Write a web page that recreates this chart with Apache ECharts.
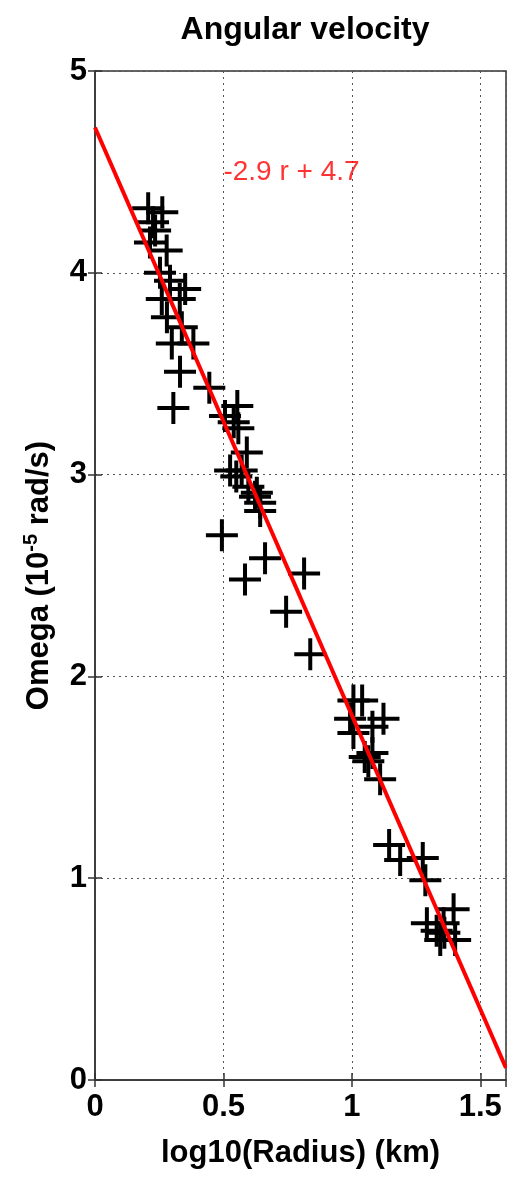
<!DOCTYPE html>
<html>
<head>
<meta charset="utf-8">
<script src="https://cdn.jsdelivr.net/npm/echarts@6/dist/echarts.min.js"></script>
<style>
  html,body{margin:0;padding:0;background:#fff;}
  #chart{width:507px;height:1178px;}
</style>
</head>
<body>
<div id="chart"></div>
<script>
var radiusLog = [0.207,0.262,0.226,0.234,0.214,0.279,0.253,0.292,0.351,0.260,0.330,0.28,0.338,0.299,0.383,0.331,0.445,0.305,
  0.506,0.554,0.558,0.54,0.591,0.526,0.571,0.55,0.597,0.63,0.623,0.643,0.643,
  0.494,0.662,0.584,0.814,0.744,0.838,
  1.006,1.04,0.993,1.123,1.006,1.08,1.05,1.08,1.064,1.11,
  1.145,1.188,1.276,1.286,
  1.292,1.357,1.396,1.344,1.402,1.33,1.36];
var omega = [4.32,4.30,4.25,4.21,4.15,4.11,4.00,3.96,3.92,3.87,3.87,3.78,3.73,3.65,3.65,3.51,3.43,3.33,
  3.29,3.34,3.23,3.26,3.11,3.02,3.02,2.99,2.94,2.91,2.89,2.86,2.82,
  2.70,2.585,2.48,2.51,2.32,2.11,
  1.88,1.88,1.79,1.79,1.72,1.75,1.60,1.62,1.58,1.49,
  1.165,1.09,1.10,0.99,
  0.777,0.777,0.846,0.694,0.694,0.74,0.73];
// fitted line end points
var fitX = [0, 1.6];
var fitY = [4.72, 0.06];
var fitText = '-2.9 r + 4.7';
var fitTextPos = [0.5, 4.5];

var xTicks = [0, 0.5, 1, 1.5];
var yTicks = [0, 1, 2, 3, 4, 5];

var pts = radiusLog.map(function(r, i){ return [r, omega[i]]; });
var fitPts = fitX.map(function(x, i){ return [x, fitY[i]]; });

var font = 'Liberation Sans, Arial, sans-serif';
var plus = 'path://M14,0H18V14H32V18H18V32H14V18H0V14H14Z';

var chart = echarts.init(document.getElementById('chart'));
chart.setOption({
  animation: false,
  backgroundColor: '#fff',
  title: {
    text: 'Angular velocity',
    left: 300, top: 9, textAlign: 'center',
    textStyle: {fontFamily: font, fontSize: 32, fontWeight: 'bold', color: '#000'}
  },
  grid: {left: 95, top: 71, right: 1, bottom: 98, show: true, borderColor: '#333', borderWidth: 1.5},
  xAxis: [{
    type: 'value', min: 0, max: 1.6, interval: 0.5,
    name: 'log10(Radius) (km)', nameLocation: 'middle', nameGap: 58,
    nameTextStyle: {fontFamily: font, fontSize: 31, fontWeight: 'bold', color: '#000'},
    axisLine: {show: true, lineStyle: {color: '#333', width: 1.5}},
    axisTick: {inside: true, length: 7, lineStyle: {color: '#333', width: 1.5}},
    axisLabel: {margin: 12, fontFamily: font, fontSize: 31, fontWeight: 'bold', color: '#000',
      showMaxLabel: false,
      formatter: function(v){ return xTicks.indexOf(v) >= 0 ? String(v) : ''; }},
    splitLine: {show: true, lineStyle: {type: [2, 4], color: '#555', width: 1}}
  }, {
    type: 'value', min: 0, max: 1.6, interval: 0.5, position: 'top',
    axisLine: {show: false},
    axisTick: {inside: true, length: 7, lineStyle: {color: '#333', width: 1.5}},
    axisLabel: {show: false}, splitLine: {show: false}
  }],
  yAxis: [{
    type: 'value', min: 0, max: 5, interval: 1,
    name: 'Omega (10{sup|-5} rad/s)', nameLocation: 'middle', nameGap: 38,
    nameTextStyle: {fontFamily: font, fontSize: 31, fontWeight: 'bold', color: '#000',
      rich: {sup: {fontFamily: font, fontSize: 20, fontWeight: 'bold', color: '#000', verticalAlign: 'top', padding: [0,0,16,0]}}},
    axisLine: {show: true, lineStyle: {color: '#333', width: 1.5}},
    axisTick: {inside: true, length: 7, lineStyle: {color: '#333', width: 1.5}},
    axisLabel: {margin: 8, fontFamily: font, fontSize: 31, fontWeight: 'bold', color: '#000',
      formatter: function(v){ return yTicks.indexOf(v) >= 0 ? String(v) : ''; }},
    splitLine: {show: true, lineStyle: {type: [2, 4], color: '#555', width: 1}}
  }, {
    type: 'value', min: 0, max: 5, interval: 1, position: 'right',
    axisLine: {show: false},
    axisTick: {inside: true, length: 7, lineStyle: {color: '#333', width: 1.5}},
    axisLabel: {show: false}, splitLine: {show: false}
  }],
  series: [{
    type: 'scatter',
    data: pts,
    symbol: plus,
    symbolSize: 32,
    itemStyle: {color: '#000', opacity: 1},
    z: 2
  }, {
    type: 'line',
    data: fitPts,
    symbol: 'none',
    lineStyle: {color: '#ff0000', width: 4},
    z: 3
  }, {
    type: 'scatter',
    data: [fitTextPos],
    symbolSize: 0,
    label: {show: true, position: 'right', distance: 0, formatter: fitText,
      fontFamily: font, fontSize: 28, color: '#ff0000'},
    z: 4
  }]
});
</script>
</body>
</html>
